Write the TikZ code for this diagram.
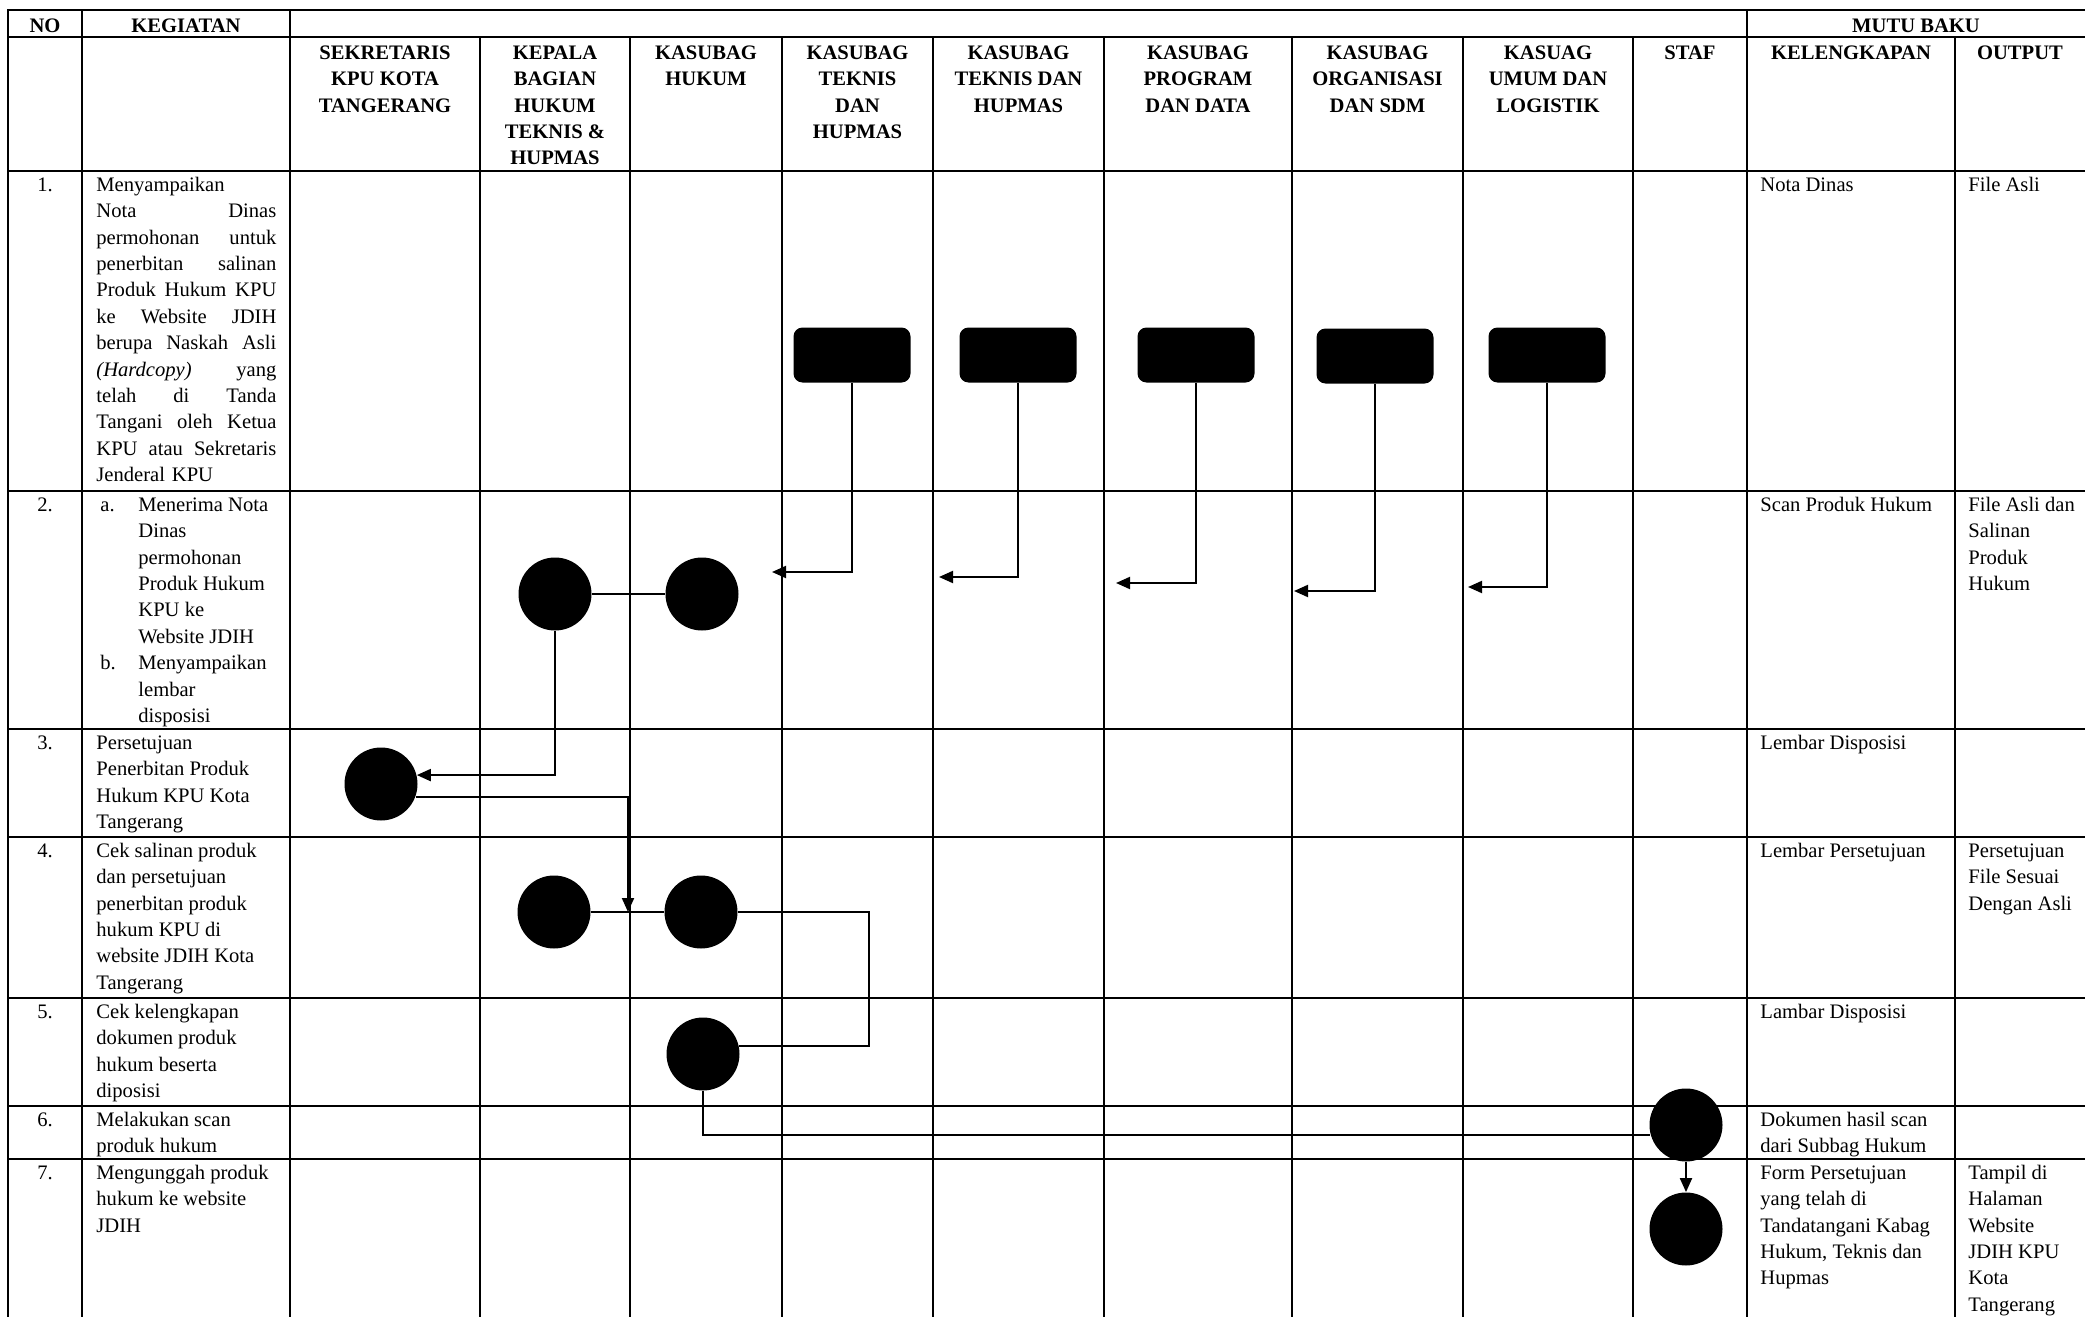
\documentclass[tikz,border=0pt]{standalone}
\usepackage{fontspec}
\setmainfont{Liberation Serif}
\usetikzlibrary{arrows.meta,positioning}
\newcommand\myfont{\fontsize{10.3}{13.2}\selectfont}
\tikzset{
  grid/.style={line width=1.4pt, line cap=rect},
  conn/.style={line width=1pt},
  arr/.style={conn, -{Triangle[length=7pt,width=6pt]}},
  box/.style={rectangle, rounded corners=4.5pt, fill=black, minimum width=58.5pt, minimum height=27.5pt, inner sep=0pt},
  dot/.style={circle, fill=black, minimum size=36.5pt, inner sep=0pt},
  txt/.style={anchor=north west, inner sep=0pt, align=left, font=\myfont},
  jtxt/.style={anchor=north west, inner sep=0pt, align=left, text width=90pt, font=\myfont},
  num/.style={anchor=north, inner sep=0pt, font=\myfont},
  hdr/.style={anchor=north, inner sep=0pt, align=center, font=\myfont\bfseries},
}
\begin{document}
\begin{tikzpicture}[x=0.5pt,y=-0.5pt]
\useasboundingbox (0,0) rectangle (2085,1317);
% ---------- grid ----------
\foreach \yy in {10,37,171,491,729,837,998,1106,1159}
  \draw[grid] (8,\yy) -- (2085,\yy);
\foreach \xx in {8,82,290,1747}
  \draw[grid] (\xx,10) -- (\xx,1317);
\foreach \xx in {480,630,782,933,1104,1292,1463,1633,1955}
  \draw[grid] (\xx,37) -- (\xx,1317);
% ---------- header ----------
\node[hdr] (hno) at (45,13.2) {\strut NO};
\node[hdr] (hkeg) at (186,13.2) {\strut KEGIATAN};
\node[hdr] (hmutu) at (1916,13.2) {\strut MUTU BAKU};
\node[hdr] (h1) at (385,40.5) {\strut SEKRETARIS\\KPU KOTA\\TANGERANG};
\node[hdr] (h2) at (555,40.5) {\strut KEPALA\\BAGIAN\\HUKUM\\TEKNIS \&\\HUPMAS};
\node[hdr] (h3) at (706,40.5) {\strut KASUBAG\\HUKUM};
\node[hdr] (h4) at (857.5,40.5) {\strut KASUBAG\\TEKNIS\\DAN\\HUPMAS};
\node[hdr] (h5) at (1018.5,40.5) {\strut KASUBAG\\TEKNIS DAN\\HUPMAS};
\node[hdr] (h6) at (1198,40.5) {\strut KASUBAG\\PROGRAM\\DAN DATA};
\node[hdr] (h7) at (1377.5,40.5) {\strut KASUBAG\\ORGANISASI\\DAN SDM};
\node[hdr] (h8) at (1548,40.5) {\strut KASUAG\\UMUM DAN\\LOGISTIK};
\node[hdr] (h9) at (1690,40.5) {\strut STAF};
\node[hdr] (h10) at (1851,40.5) {\strut KELENGKAPAN};
\node[hdr] (h11) at (2020,40.5) {\strut OUTPUT};
% ---------- numbers ----------
\node[num] (n1) at (45,172.5) {\strut 1.};
\node[num] (n2) at (45,492.5) {\strut 2.};
\node[num] (n3) at (45,730.5) {\strut 3.};
\node[num] (n4) at (45,838.5) {\strut 4.};
\node[num] (n5) at (45,999.5) {\strut 5.};
\node[num] (n6) at (45,1107.5) {\strut 6.};
\node[num] (n7) at (45,1160.5) {\strut 7.};
% ---------- kegiatan ----------
\node[jtxt] (k1) at (96,172.5) {\strut Menyampaikan\\
Nota \hfill Dinas\\
permohonan \hfill untuk\\
penerbitan \hfill salinan\\
Produk \hfill Hukum \hfill KPU\\
ke \hfill Website \hfill JDIH\\
berupa \hfill Naskah \hfill Asli\\
\textit{(Hardcopy)} \hfill yang\\
telah \hfill di \hfill Tanda\\
Tangani \hfill oleh \hfill Ketua\\
KPU \hfill atau \hfill Sekretaris\\
Jenderal KPU};
\node[txt] (k2a) at (100,492.5) {\strut a.};
\node[txt] (k2at) at (138,492.5) {\strut Menerima Nota\\Dinas\\permohonan\\Produk Hukum\\KPU ke\\Website JDIH};
\node[txt] (k2b) at (100,650.9) {\strut b.};
\node[txt] (k2bt) at (138,650.9) {\strut Menyampaikan\\lembar\\disposisi};
\node[txt] (k3) at (96,730.5) {\strut Persetujuan\\Penerbitan Produk\\Hukum KPU Kota\\Tangerang};
\node[txt] (k4) at (96,838.5) {\strut Cek salinan produk\\dan persetujuan\\penerbitan produk\\hukum KPU di\\website JDIH Kota\\Tangerang};
\node[txt] (k5) at (96,999.5) {\strut Cek kelengkapan\\dokumen produk\\hukum beserta\\diposisi};
\node[txt] (k6) at (96,1107.5) {\strut Melakukan scan\\produk hukum};
\node[txt] (k7) at (96,1160.5) {\strut Mengunggah produk\\hukum ke website\\JDIH};
% ---------- kelengkapan ----------
\node[txt] (l1) at (1760,172.5) {\strut Nota Dinas};
\node[txt] (l2) at (1760,492.5) {\strut Scan Produk Hukum};
\node[txt] (l3) at (1760,730.5) {\strut Lembar Disposisi};
\node[txt] (l4) at (1760,838.5) {\strut Lembar Persetujuan};
\node[txt] (l5) at (1760,999.5) {\strut Lambar Disposisi};
\node[txt] (l6) at (1760,1107.5) {\strut Dokumen hasil scan\\dari Subbag Hukum};
\node[txt] (l7) at (1760,1160.5) {\strut Form Persetujuan\\yang telah di\\Tandatangani Kabag\\Hukum, Teknis dan\\Hupmas};
% ---------- output ----------
\node[txt] (o1) at (1968,172.5) {\strut File Asli};
\node[txt] (o2) at (1968,492.5) {\strut File Asli dan\\Salinan\\Produk\\Hukum};
\node[txt] (o4) at (1968,838.5) {\strut Persetujuan\\File Sesuai\\Dengan Asli};
\node[txt] (o7) at (1968,1160.5) {\strut Tampil di\\Halaman\\Website\\JDIH KPU\\Kota\\Tangerang};
% ---------- shapes ----------
\node[box] (b1) at (852,355) {};
\node[box] (b2) at (1018,355) {};
\node[box] (b3) at (1196,355) {};
\node[box] (b4) at (1375,356) {};
\node[box] (b5) at (1547,355) {};
\node[dot] (A) at (555,594) {};
\node[dot] (B) at (702,594) {};
\node[dot] (C) at (381,784) {};
\node[dot] (D) at (554,912) {};
\node[dot] (E) at (701,912) {};
\node[dot] (F) at (703,1054) {};
\node[dot] (G) at (1686,1125) {};
\node[dot] (H) at (1686,1229) {};
% ---------- connectors ----------
\coordinate (t1) at (772,572);
\coordinate (t2) at (939,577);
\coordinate (t3) at (1116,583);
\coordinate (t4) at (1294,591);
\coordinate (t5) at (1468,587);
\draw[arr] (b1.south) |- (t1);
\draw[arr] (b2.south) |- (t2);
\draw[arr] (b3.south) |- (t3);
\draw[arr] (b4.south) |- (t4);
\draw[arr] (b5.south) |- (t5);
\draw[conn] (A) -- (B);
\draw[arr] (A.south) |- (C.14);
\coordinate (m) at (628,912);
\draw[arr] (C.-20) -| (m);
\draw[conn] (D) -- (E);
\coordinate (k) at (869,912);
\draw[conn] (E.east) -- (k) |- (F.12);
\draw[conn] (F.south) |- (G.195);
\draw[arr] (G) -- (H);
\end{tikzpicture}
\end{document}
